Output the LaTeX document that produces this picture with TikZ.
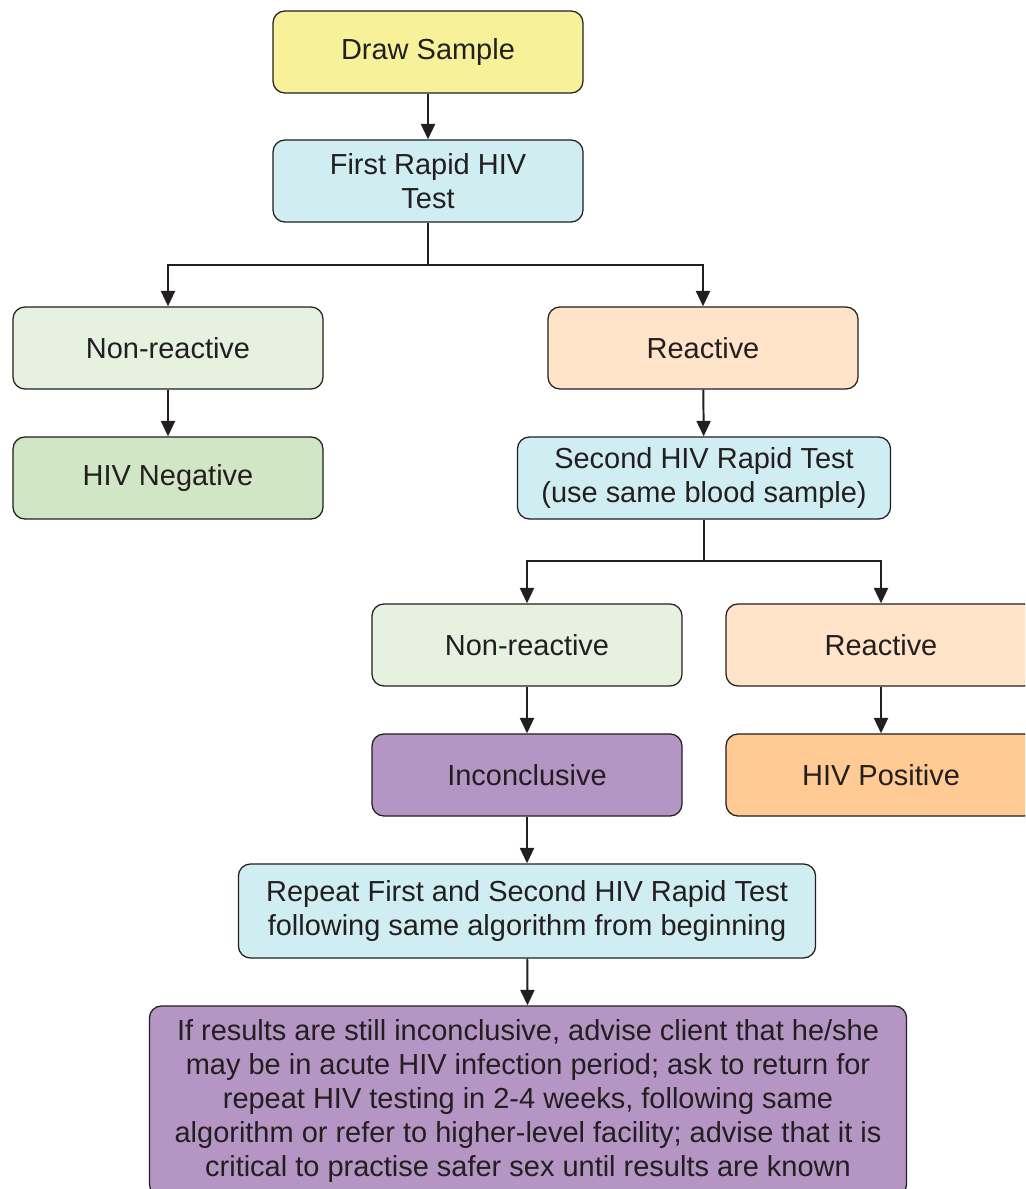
\documentclass[tikz,border=0pt]{standalone}
\usepackage{fontspec}
\setmainfont{Liberation Sans}
\usepackage{tikz}
\usetikzlibrary{arrows.meta}

\definecolor{boxline}{RGB}{35,31,32}
\definecolor{sampleyellow}{RGB}{247,242,154}
\definecolor{testblue}{RGB}{208,237,242}
\definecolor{nonreactgreen}{RGB}{230,241,224}
\definecolor{neggreen}{RGB}{209,230,197}
\definecolor{reactpeach}{RGB}{255,228,202}
\definecolor{posorange}{RGB}{255,202,148}
\definecolor{inconcpurple}{RGB}{180,149,196}

\begin{document}
\begin{tikzpicture}[x=0.025cm, y=-0.025cm,
    stepbox/.style={draw=boxline, line width=0.9pt, rounded corners=0.3cm,
        minimum width=7.75cm, minimum height=2.05cm, inner sep=0pt,
        align=center, text=boxline, font=\fontsize{20.6}{24.2}\selectfont},
    arr/.style={draw=boxline, line width=1.4pt, -{Triangle[width=10pt,length=11pt]}},
    stem/.style={draw=boxline, line width=1.4pt}]
        % Fix the page to the size of the reference
        \clip (0,0) rectangle (1025,1189);

        % First column of steps
        \node[stepbox, fill=sampleyellow] (sample) at (428,52) {Draw Sample};
        \node[stepbox, fill=testblue] (first) at (428,181) {First Rapid HIV\\Test};

        % Result of the first test
        \node[stepbox, fill=nonreactgreen] (nonreactA) at (168,348) {Non-reactive};
        \node[stepbox, fill=neggreen] (negative) at (168,478) {HIV Negative};
        \node[stepbox, fill=reactpeach] (reactA) at (703,348) {Reactive};
        \node[stepbox, fill=testblue, minimum width=9.325cm] (second) at (704,478)
            {Second HIV Rapid Test\\(use same blood sample)};

        % Result of the second test
        \node[stepbox, fill=nonreactgreen] (nonreactB) at (527,645) {Non-reactive};
        \node[stepbox, fill=reactpeach] (reactB) at (881,645) {Reactive};
        \node[stepbox, fill=inconcpurple] (inconc) at (527,775) {Inconclusive};
        \node[stepbox, fill=posorange] (positive) at (881,775) {HIV Positive};

        % Repeat and final advice
        \node[stepbox, fill=testblue, minimum width=14.425cm, minimum height=2.35cm] (repeat) at (527,911)
            {Repeat First and Second HIV Rapid Test\\following same algorithm from beginning};
        \node[stepbox, fill=inconcpurple, minimum width=18.925cm, minimum height=4.75cm] (advice) at (528,1101)
            {If results are still inconclusive, advise client that he/she\\
             may be in acute HIV infection period; ask to return for\\
             repeat HIV testing in 2-4 weeks, following same\\
             algorithm or refer to higher-level facility; advise that it is\\
             critical to practise safer sex until results are known};

        % Branch points
        \coordinate (splitA) at (428,265);
        \coordinate (splitB) at (704,561);

        % Connectors
        \draw[arr] (sample) -- (first);
        \draw[stem] (first) -- (splitA);
        \draw[arr] (splitA) -| (nonreactA);
        \draw[arr] (splitA) -| (reactA);
        \draw[arr] (nonreactA) -- (negative);
        \draw[arr] (reactA) -- (second);
        \draw[stem] (second) -- (splitB);
        \draw[arr] (splitB) -| (nonreactB);
        \draw[arr] (splitB) -| (reactB);
        \draw[arr] (nonreactB) -- (inconc);
        \draw[arr] (reactB) -- (positive);
        \draw[arr] (inconc) -- (repeat);
        \draw[arr] (repeat) -- (advice);

    \end{tikzpicture}
\end{document}
